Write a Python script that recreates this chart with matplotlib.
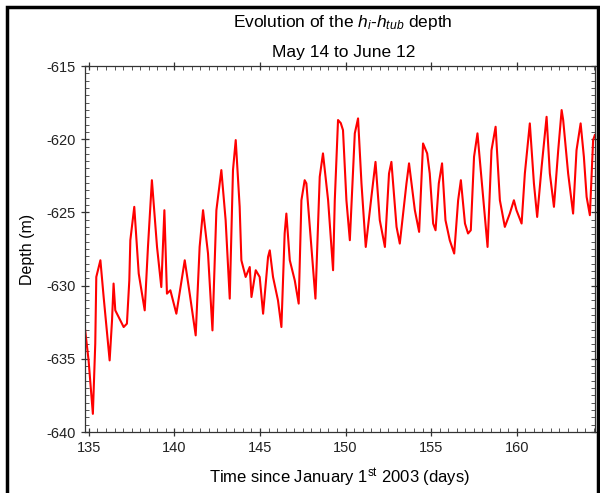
import matplotlib
matplotlib.use("Agg")
import matplotlib.pyplot as plt
from matplotlib.ticker import MultipleLocator
from matplotlib.patches import Rectangle

plt.rcParams['font.family'] = ['Liberation Sans', 'DejaVu Sans']
plt.rcParams['axes.unicode_minus'] = False
plt.rcParams['mathtext.fontset'] = 'custom'
plt.rcParams['mathtext.rm'] = 'Liberation Sans'
plt.rcParams['mathtext.it'] = 'Liberation Sans:italic'

# Time (days since Jan 1 2003) and depth (m)
days = [134.78, 134.98, 135.23, 135.37, 135.43, 135.67, 135.86, 136.21, 136.35, 136.44,
        136.54, 136.74, 137.03, 137.22, 137.36, 137.42, 137.65, 137.91, 138.26, 138.45,
        138.68, 138.98, 139.23, 139.41, 139.56, 139.76, 140.11, 140.60, 140.89, 141.24,
        141.47, 141.67, 141.96, 142.22, 142.45, 142.74, 142.99, 143.23, 143.42, 143.58,
        143.81, 143.91, 144.16, 144.40, 144.50, 144.75, 144.98, 145.18, 145.47, 145.57,
        145.76, 146.05, 146.25, 146.44, 146.54, 146.74, 147.03, 147.26, 147.42, 147.61,
        147.71, 147.91, 148.24, 148.49, 148.68, 148.98, 149.27, 149.37, 149.56, 149.72,
        149.85, 150.05, 150.25, 150.54, 150.73, 150.93, 151.18, 151.51, 151.75, 152.00,
        152.30, 152.54, 152.68, 152.98, 153.17, 153.56, 153.71, 154.05, 154.30, 154.53,
        154.77, 154.92, 155.12, 155.26, 155.45, 155.64, 155.84, 156.09, 156.35, 156.58,
        156.74, 156.98, 157.16, 157.32, 157.51, 157.71, 158.04, 158.30, 158.53, 158.77,
        159.02, 159.31, 159.60, 159.84, 159.99, 160.29, 160.48, 160.77, 161.01, 161.20,
        161.46, 161.75, 161.94, 162.18, 162.43, 162.63, 162.72, 163.01, 163.30, 163.50,
        163.74, 163.93, 164.09, 164.28, 164.47, 164.57]
depth = [-633.06, -635.11, -638.76, -633.95, -629.41, -628.27, -630.78, -635.11, -632.37, -629.86,
         -631.69, -632.15, -632.83, -632.60, -629.64, -626.90, -624.62, -629.18, -631.69, -627.36,
         -622.80, -627.36, -630.10, -624.85, -630.55, -630.32, -631.92, -628.27, -630.55, -633.40,
         -627.36, -624.85, -627.81, -633.06, -624.85, -622.11, -625.53, -630.89, -622.11, -620.06,
         -624.62, -628.27, -629.41, -628.73, -630.78, -628.95, -629.41, -631.92, -628.04, -627.59,
         -629.41, -631.01, -632.83, -626.44, -625.08, -628.27, -629.64, -631.23, -624.17, -622.80,
         -623.02, -625.99, -630.89, -622.57, -620.97, -624.17, -628.95, -624.17, -618.69, -618.90,
         -619.38, -624.17, -626.90, -619.60, -618.58, -623.02, -627.36, -623.94, -621.55, -625.53,
         -627.36, -622.34, -621.55, -625.99, -627.13, -623.02, -621.65, -624.85, -626.33, -620.29,
         -620.97, -622.34, -625.76, -626.22, -623.02, -621.65, -625.53, -626.90, -627.81, -624.17,
         -622.80, -625.76, -626.44, -626.22, -621.20, -619.60, -623.94, -627.36, -620.75, -619.15,
         -624.17, -625.99, -625.08, -624.17, -624.85, -625.76, -622.34, -618.92, -623.02, -625.31,
         -621.89, -618.47, -622.34, -624.62, -620.75, -618.01, -618.69, -622.34, -625.08, -620.75,
         -618.92, -621.20, -623.94, -625.19, -620.06, -619.72]

W, H = 600, 493
fig = plt.figure(figsize=(W / 100, H / 100), dpi=100)
ax = fig.add_axes([85 / W, 1 - 432 / H, (595 - 85) / W, (432 - 66) / H])

ax.plot(days, depth, color='#ff0000', linewidth=1.5, solid_joinstyle='round')

ax.set_xlim(134.77, 164.58)
ax.set_ylim(-640, -615)
ax.xaxis.set_major_locator(MultipleLocator(5))
ax.xaxis.set_minor_locator(MultipleLocator(0.5))
ax.yaxis.set_major_locator(MultipleLocator(5))
ax.yaxis.set_minor_locator(MultipleLocator(0.5))
ax.tick_params(which='major', direction='inout', length=6, width=0.9,
               top=True, right=True, labelsize=10.5, colors='#333333', labelcolor='#222222')
ax.tick_params(which='minor', direction='in', length=3, width=0.7,
               top=True, right=True, colors='#555555')
for s in ax.spines.values():
    s.set_color('#333333')
    s.set_linewidth(0.9)

ax.set_xlabel('Time since January 1$^{\\mathrm{st}}$ 2003 (days)', fontsize=12, labelpad=8)
ax.set_ylabel('Depth (m)', fontsize=11.5, labelpad=8)

fig.text(0.572, 1 - 23 / H, 'Evolution of the $h_i$-$h_{tub}$ depth', ha='center', va='center', fontsize=12.5)
fig.text(0.572, 1 - 53 / H, 'May 14 to June 12', ha='center', va='center', fontsize=12.5)

fig.patches.append(Rectangle((7 / W, -0.05), (598 - 7) / W, 1.05 - 7 / H,
                             transform=fig.transFigure, fill=False,
                             edgecolor='black', linewidth=2.5))

fig.savefig('out.png', dpi=100)
